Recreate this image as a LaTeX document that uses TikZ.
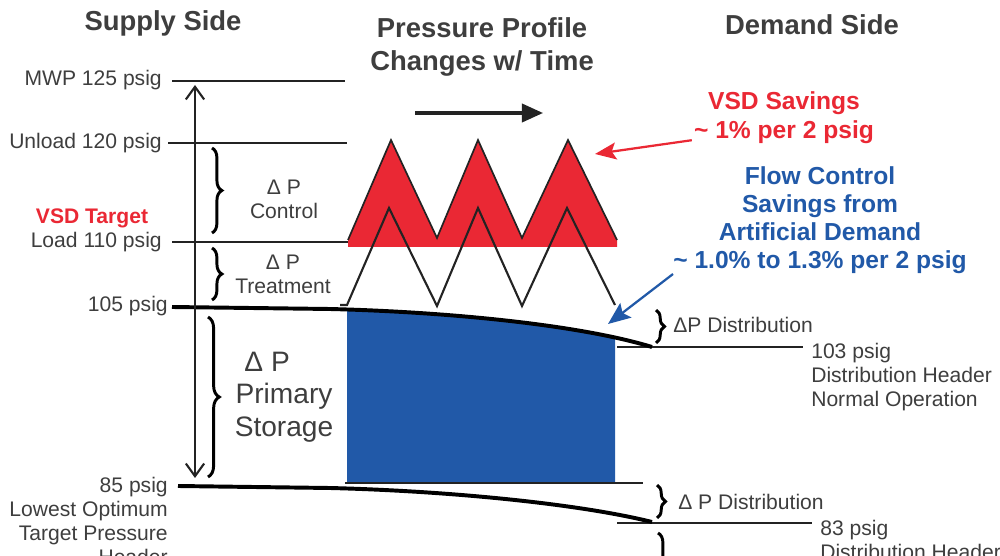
\documentclass[tikz,border=0pt]{standalone}
\usepackage{fontspec}
\setmainfont{Liberation Sans}
\usetikzlibrary{arrows.meta,decorations.pathreplacing,positioning}

\definecolor{vsdred}{RGB}{234,40,52}
\definecolor{flowblue}{RGB}{33,89,168}
\definecolor{inkgray}{RGB}{62,62,62}
\definecolor{linegray}{RGB}{35,35,35}

\newcommand{\lblfont}{\fontsize{15}{17}\selectfont}
\newcommand{\bigfont}{\fontsize{20}{23}\selectfont}
\newcommand{\headfont}{\fontsize{19.5}{23}\selectfont\bfseries}
\newcommand{\notefont}{\fontsize{17.5}{20.5}\selectfont\bfseries}

\tikzset{
  lvl/.style={line width=2pt, draw=linegray},
  hdr/.style={line width=2.8pt, draw=black},
  saw/.style={line width=1.5pt, draw=linegray, line join=miter},
  brc/.style={decorate, decoration={brace, amplitude=#1}, line width=2.1pt, draw=black},
  lbl/.style={font=\lblfont, text=inkgray, inner sep=0pt},
  title/.style={font=\headfont, text=inkgray, inner sep=0pt, align=center},
  note/.style={font=\notefont, inner sep=0pt, align=center},
}

\begin{document}
\begin{tikzpicture}[x=0.025cm,y=-0.025cm]
\clip (0,0) rectangle (1000,556);

% titles
\node[title] (supply) at (163,23) {Supply Side};
\node[title] (profile) at (482,47) {Pressure Profile\\Changes w/ Time};
\node[title] (demand) at (812,25) {Demand Side};

% blue storage block under the header curve
\begin{scope}
\clip (347,290) rectangle (615,483);
\fill[flowblue] (330,309) .. controls (450,312) and (580,325) .. (650,346) -- (650,490) -- (330,490) -- cycle;
\end{scope}

% red control band
\fill[vsdred] (348,247) -- (348,240) -- (391,140) -- (437,238) -- (478,140) -- (522,238) -- (568,140) -- (617,240) -- (617,247) -- cycle;
\draw[saw, line width=1.2pt] (348,240) -- (391,140) -- (437,238) -- (478,140) -- (522,238) -- (568,140) -- (617,240);

% treatment profile
\draw[saw] (340,305) -- (347,305) -- (389,208) -- (437,306) -- (478,208) -- (522,306) -- (567,208) -- (615,305);

% supply levels
\draw[lvl] (172,81) -- (345,81);
\draw[lvl] (168,143) -- (347,143);
\draw[lvl] (172,242) -- (348,242);
\draw[lvl] (345,483) -- (643,483);
\draw[lvl] (617,347) -- (803,347);
\draw[lvl] (617,523) -- (812,523);

% header pressure curves
\draw[hdr] (172,307) -- (330,309) .. controls (450,312) and (580,325) .. (652,347);
\draw[hdr] (178,486) -- (330,488) .. controls (450,491) and (580,504) .. (652,522);

% range arrow
\coordinate (rtop) at (195,85);
\coordinate (rbot) at (195,478);
\draw[line width=1.5pt, draw=linegray, {Straight Barb[length=9pt,width=13pt]}-{Straight Barb[length=9pt,width=13pt]}] (rtop) -- (rbot);

% braces
\draw[brc=7pt] (212,148) -- (212,233);
\draw[brc=7pt] (212,248) -- (212,300);
\draw[brc=8pt] (208,317) -- (208,477);
\draw[brc=6pt] (656,310) -- (656,343);
\draw[brc=6pt] (657,485) -- (657,518);
\draw[brc=7pt] (658,533) -- (658,610);

% left labels
\node[lbl, anchor=east] (mwp) at (162,80) {MWP 125 psig};
\node[lbl, anchor=east] (unload) at (162,143) {Unload 120 psig};
\node[lbl, font=\lblfont\bfseries, text=vsdred] (vsdtarget) at (92,218) {VSD Target};
\node[lbl, anchor=east] (load) at (162,242) {Load 110 psig};
\node[lbl, anchor=east] (p105) at (168,306) {105 psig};
\node[lbl, anchor=north east, align=right] (p85) at (168,477) {85 psig\\Lowest Optimum\\Target Pressure\\Header};

% delta p labels
\node[lbl, align=center] (dpctrl) at (284,199) {Δ P\\Control};
\node[lbl, align=center] (dptreat) at (283,274) {Δ P\\Treatment};
\node[lbl, font=\bigfont, align=center] (dpstore) at (284,397) {Δ P\hspace*{1.2em}\\Primary\\Storage};
\node[lbl, anchor=west] (dpdist) at (673,325) {ΔP Distribution};
\node[lbl, anchor=west] (dpdistb) at (678,502) {Δ P Distribution};

% demand labels
\node[lbl, anchor=north west, align=left] (p103) at (811,343) {103 psig\\Distribution Header\\Normal Operation};
\node[lbl, anchor=north west, align=left] (p83) at (820,520) {83 psig\\Distribution Header};

% time arrow
\coordinate (tstart) at (415,113);
\coordinate (tend) at (543,113);
\draw[line width=2.2pt, draw=linegray, -{Triangle[length=15pt,width=13pt]}] (tstart) -- (tend);

% savings notes
\node[note, text=vsdred] (vsd) at (784,118) {VSD Savings\\\textasciitilde{} 1\% per 2 psig};
\node[note, text=flowblue, font=\fontsize{17.5}{20}\selectfont\bfseries] (flow) at (820,220) {Flow Control\\Savings from\\Artificial Demand\\\textasciitilde{} 1.0\% to 1.3\% per 2 psig};

\coordinate (redtip) at (595,154);
\coordinate (bluetip) at (608,324);
\draw[line width=1.6pt, draw=vsdred, -{Stealth[length=15pt,width=12pt,inset=3pt]}] (vsd.south west) ++(-2,-4) -- (redtip);
\draw[line width=1.6pt, draw=flowblue, -{Stealth[length=16pt,width=13pt,inset=3pt]}] (flow.south west) -- (bluetip);

\end{tikzpicture}
\end{document}
